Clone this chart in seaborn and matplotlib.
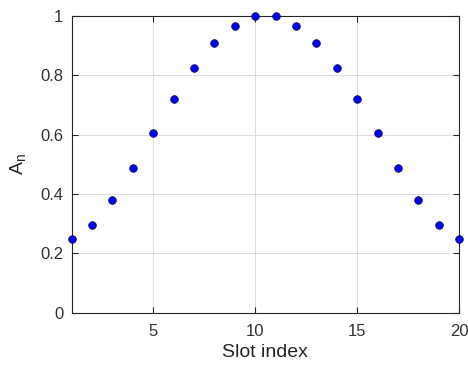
import matplotlib
matplotlib.use("Agg")
import matplotlib.pyplot as plt
import seaborn as sns
import pandas as pd

slot_index = list(range(1, 21))
amplitude = [0.250, 0.296, 0.379, 0.487, 0.605, 0.720, 0.824, 0.908, 0.967, 1.000,
             1.000, 0.967, 0.908, 0.824, 0.720, 0.605, 0.487, 0.379, 0.296, 0.250]
x_ticks = [5, 10, 15, 20]
y_ticks = [0, 0.2, 0.4, 0.6, 0.8, 1]
y_tick_labels = ["0", "0.2", "0.4", "0.6", "0.8", "1"]

sns.set_theme(style="whitegrid")
plt.rcParams['font.family'] = ['Liberation Sans', 'DejaVu Sans']

df = pd.DataFrame({"Slot index": slot_index, "A": amplitude})

fig = plt.figure(figsize=(4.68, 3.67), dpi=100)
ax = fig.add_axes([0.153, 0.148, 0.828, 0.808])
sns.scatterplot(data=df, x="Slot index", y="A", ax=ax, s=30, color=(0, 0, 1),
                edgecolor="#101050", linewidth=0.6, zorder=3, clip_on=False)

ax.set_xlim(1, 20)
ax.set_ylim(0, 1)
ax.set_xticks(x_ticks)
ax.set_yticks(y_ticks)
ax.set_yticklabels(y_tick_labels)
ax.grid(True, color="#dcdcdc", linewidth=0.7)
for s in ax.spines.values():
    s.set_visible(True)
    s.set_color("#262626")
    s.set_linewidth(0.8)
ax.tick_params(direction="in", length=4, width=0.8, color="#262626",
               labelsize=12, labelcolor="#333333", top=True, right=True,
               bottom=True, left=True)
ax.tick_params(axis="x", pad=8)
ax.tick_params(axis="y", pad=6)
ax.set_xlabel("Slot index", fontsize=14, color="#262626", labelpad=4)
ax.set_ylabel(r"A$_\mathregular{n}$", fontsize=14, color="#262626", labelpad=8)
fig.savefig("out.png", dpi=100)
